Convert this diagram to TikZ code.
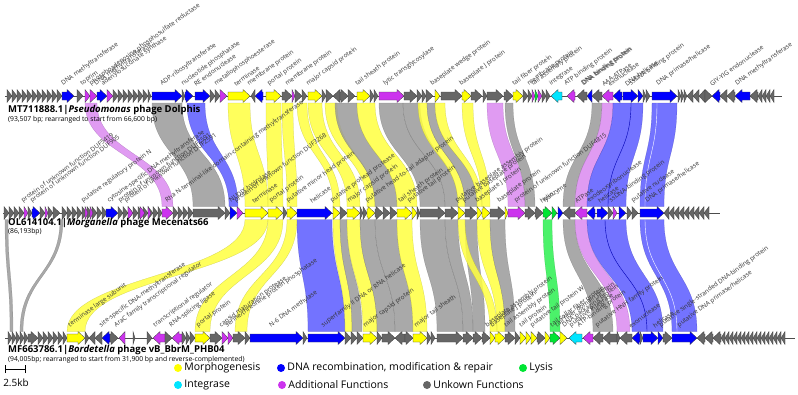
\documentclass[tikz,border=0pt]{standalone}
\usepackage{fontspec}
\setmainfont{Open Sans}
\usetikzlibrary{positioning}

\definecolor{morph}{HTML}{FFFF00}
\definecolor{dnarep}{HTML}{0000FF}
\definecolor{lysis}{HTML}{00E533}
\definecolor{integ}{HTML}{00E5FF}
\definecolor{addfun}{HTML}{CC33EE}
\definecolor{unkn}{HTML}{666666}
\definecolor{bmorph}{HTML}{FFFF40}
\definecolor{bdna}{HTML}{5A5AFF}
\definecolor{badd}{HTML}{DA8AF0}
\definecolor{bunk}{HTML}{9A9A9A}
\definecolor{blys}{HTML}{2CF050}

\tikzset{
  genebox/.style={draw=black!75, line width=0.3pt, line join=miter},
  bandfill/.style={fill=#1, fill opacity=0.85, draw=#1!70!black, draw opacity=0.6, line width=0.25pt},
  genelbl/.style={rotate=36, anchor=south west, inner sep=0pt,
    font=\fontsize{6.3}{7}\selectfont, text=black!80},
  tracktitle/.style={anchor=west, inner sep=0pt, font=\fontsize{9.5}{10}\selectfont\bfseries},
  tracknote/.style={anchor=west, inner sep=0pt, font=\fontsize{6.8}{7}\selectfont},
  backbone/.style={draw=black!70, line width=0.5pt},
  legdot/.style={circle, inner sep=0pt, minimum size=8pt},
  legtext/.style={anchor=west, inner sep=0pt, font=\fontsize{10.5}{11}\selectfont},
}

% one gene: start, end, track y, colour (points from start to end)
\newcommand{\genearrow}[4]{%
  \pgfmathsetmacro{\gl}{abs(#2-(#1))}%
  \pgfmathsetmacro{\gs}{(#2>#1)?1:-1}%
  \pgfmathsetmacro{\gh}{min(7,\gl)}%
  \pgfmathsetmacro{\gn}{#2-\gs*\gh}%
  \ifdim\gl pt<7.5pt
    \draw[genebox, fill=#4] (#1,#3-6.5) -- (#2,#3) -- (#1,#3+6.5) -- cycle;
  \else
    \draw[genebox, fill=#4] (#1,#3-4) -- (\gn,#3-4) -- (\gn,#3-6.5) -- (#2,#3)
      -- (\gn,#3+6.5) -- (\gn,#3+4) -- (#1,#3+4) -- cycle;
  \fi}

% homology ribbon: upper start/end, lower start/end, upper y, lower y, colour
\newcommand{\homband}[7]{%
  \pgfmathsetmacro{\bm}{(#5+#6)/2}%
  \draw[bandfill=#7] (#1,#5) .. controls (#1,\bm) and (#3,\bm) .. (#3,#6)
    -- (#4,#6) .. controls (#4,\bm) and (#2,\bm) .. (#2,#5) -- cycle;}

% thin seam inside a ribbon
\newcommand{\bandseam}[5]{%
  \pgfmathsetmacro{\bm}{(#3+#4)/2}%
  \draw[#5, line width=0.4pt] (#1,#3) .. controls (#1,\bm) and (#2,\bm) .. (#2,#4);}

\begin{document}
\begin{tikzpicture}[x=1pt, y=-1pt]
\useasboundingbox (0,0) rectangle (798,394);

% ribbons Dolphis -> Mecenats66
\foreach \a/\b/\c/\d/\k in {85/97/162/173/badd, 152/182/193/225/bunk, 187/205/229/238/bdna,
    228/250/245/268/bmorph, 266/281/268/283/bmorph, 282/293/287/297/bmorph,
    297/307/333/340/bmorph, 308/322/347/360/bmorph, 325/337/367/375/bmorph,
    335/357/375/397/bunk, 357/375/397/417/bmorph, 379/403/420/445/bunk,
    403/420/445/458/bunk, 418/427/458/465/bmorph, 427/435/465/477/bunk,
    435/445/477/482/bmorph, 462/473/482/490/bmorph, 487/503/508/525/badd,
    505/513/525/535/bunk, 592/602/563/575/bunk, 602/613/575/587/badd,
    613/643/587/626/bdna, 652/677/640/664/bdna}
  {\homband{\a}{\b}{\c}{\d}{103}{206.5}{\k}}
\bandseam{631}{608}{103}{206.5}{dnarep!70!black}
\bandseam{657}{645}{103}{206.5}{white}

% ribbons Mecenats66 -> PHB04
\foreach \a/\b/\c/\d/\k in {5/8/10/13/bunk, 60/63/20/23/bunk, 245/268/67/85/bmorph,
    268/283/195/210/bmorph, 287/297/235/247/bmorph, 297/332/308/345/bdna,
    333/340/345/352/bmorph, 340/347/352/362/bunk, 347/360/363/377/bmorph,
    360/375/377/395/bunk, 375/397/395/413/bunk, 397/412/413/427/bmorph,
    420/445/437/463/bunk, 445/458/463/473/bunk, 465/477/473/485/bunk,
    458/465/490/497/bmorph, 477/490/497/505/bmorph, 490/505/505/515/bunk,
    543/552/550/560/blys, 563/575/593/613/bunk, 575/587/617/630/badd,
    587/626/632/663/bdna, 640/664/672/697/bdna}
  {\homband{\a}{\b}{\c}{\d}{219.5}{331.5}{\k}}
\bandseam{605}{647}{219.5}{331.5}{dnarep!70!black}
\bandseam{645}{677}{219.5}{331.5}{white}

% backbones
\draw[backbone] (5,96) -- (782,96);
\draw[backbone] (3,213) -- (720,213);
\draw[backbone] (5,338) -- (795,338);

% genes: Dolphis
\foreach \x in {7,12,...,57} {\genearrow{\x}{\x+5}{96}{unkn}}
\foreach \x in {113,118,...,143} {\genearrow{\x}{\x+5}{96}{unkn}}
\foreach \a/\b/\k in {62/74/dnarep, 77/83/unkn, 85/90/addfun, 90/97/addfun, 97/107/dnarep,
    107/113/addfun, 148/151/unkn, 152/182/dnarep, 182/185/unkn, 185/193/dnarep,
    195/210/dnarep, 210/215/unkn, 215/220/unkn, 220/227/addfun, 228/250/morph,
    255/251/unkn, 263/255/dnarep, 266/281/morph, 282/292/unkn, 292/295/addfun,
    295/302/unkn, 302/307/unkn, 308/322/morph, 322/326/unkn, 326/333/unkn,
    340/333/unkn, 340/348/unkn, 348/355/unkn, 357/370/morph, 370/374/unkn,
    374/378/unkn, 379/404/addfun, 404/417/unkn, 417/422/unkn, 422/426/unkn,
    426/433/unkn, 435/440/morph, 441/462/unkn, 462/471/morph, 471/482/unkn,
    483/487/unkn, 487/503/unkn, 504/513/unkn, 513/523/morph, 523/528/unkn,
    528/532/unkn, 532/535/addfun, 535/538/lysis, 538/542/addfun, 542/546/unkn,
    546/550/unkn, 562/551/integ, 575/567/addfun, 587/577/unkn, 592/587/dnarep,
    602/592/unkn, 613/602/addfun, 622/613/dnarep, 623/638/dnarep, 638/643/dnarep,
    643/646/unkn, 646/650/unkn, 652/677/dnarep, 678/681/unkn, 681/684/unkn,
    684/687/unkn, 693/687/unkn, 699/693/unkn, 705/699/unkn, 705/712/unkn,
    720/712/dnarep, 727/720/unkn, 735/727/unkn, 750/735/dnarep, 758/750/unkn,
    762/758/unkn, 766/762/unkn, 770/766/unkn, 774/770/unkn}
  {\genearrow{\a}{\b}{96}{\k}}

% genes: Mecenats66
\foreach \x in {4,9,14,19,62,67,...,102,118,123,...,153} {\genearrow{\x}{\x+5}{213}{unkn}}
\foreach \x in {664,669,...,704} {\genearrow{\x+5}{\x}{213}{unkn}}
\foreach \a/\b/\k in {24/28/addfun, 28/32/unkn, 32/40/dnarep, 40/45/unkn, 45/48/addfun,
    48/53/unkn, 53/60/unkn, 85/88/addfun, 90/93/addfun, 106/118/dnarep,
    128/133/addfun, 140/145/addfun, 148/151/addfun, 158/162/unkn, 162/173/addfun,
    173/178/unkn, 178/183/unkn, 183/188/unkn, 188/193/unkn, 193/225/unkn,
    225/230/unkn, 230/237/dnarep, 237/243/addfun, 245/268/morph, 268/283/morph,
    283/287/unkn, 287/297/morph, 297/332/dnarep, 333/340/morph, 340/347/unkn,
    347/360/morph, 360/363/unkn, 363/367/unkn, 367/375/morph, 375/383/unkn,
    383/390/unkn, 390/397/unkn, 397/412/morph, 412/417/morph, 417/420/unkn,
    420/445/unkn, 445/458/unkn, 458/465/morph, 465/477/unkn, 477/482/morph,
    482/490/morph, 490/505/unkn, 505/508/morph, 508/525/addfun, 525/535/unkn,
    535/543/unkn, 543/552/lysis, 552/557/lysis, 558/563/dnarep, 575/563/unkn,
    587/575/addfun, 595/587/dnarep, 597/608/dnarep, 608/613/unkn, 613/617/addfun,
    619/626/dnarep, 627/632/unkn, 632/638/unkn, 640/664/dnarep}
  {\genearrow{\a}{\b}{213}{\k}}

% genes: PHB04
\foreach \x in {8,12,...,24} {\genearrow{\x}{\x+4}{338}{unkn}}
\foreach \x in {38,43,...,58} {\genearrow{\x}{\x+5}{338}{unkn}}
\foreach \x in {721,725,...,781} {\genearrow{\x+4}{\x}{338}{unkn}}
\foreach \a/\b/\k in {28/38/unkn, 63/67/unkn, 67/85/morph, 85/89/unkn, 95/89/unkn,
    102/95/unkn, 110/102/dnarep, 110/118/unkn, 125/119/addfun, 133/135/unkn,
    147/152/unkn, 165/153/addfun, 165/172/unkn, 182/172/addfun, 182/186/unkn,
    186/190/unkn, 190/195/unkn, 195/210/morph, 210/222/unkn, 222/228/addfun,
    228/233/addfun, 233/245/unkn, 245/250/unkn, 250/303/dnarep, 303/307/unkn,
    308/345/dnarep, 345/351/unkn, 351/357/unkn, 357/363/unkn, 363/377/morph,
    377/382/unkn, 382/395/unkn, 405/395/unkn, 405/413/unkn, 413/427/morph,
    427/431/unkn, 431/435/unkn, 437/463/unkn, 463/473/unkn, 473/482/unkn,
    482/490/unkn, 490/495/morph, 495/505/morph, 505/515/unkn, 515/520/unkn,
    520/526/morph, 526/531/morph, 531/537/morph, 537/545/unkn, 545/550/morph,
    550/560/lysis, 560/567/morph, 582/569/integ, 593/583/addfun, 603/593/unkn,
    617/603/unkn, 617/620/unkn, 632/620/unkn, 640/632/dnarep, 640/643/unkn,
    643/658/dnarep, 658/663/dnarep, 663/672/unkn, 672/697/dnarep, 705/697/unkn,
    713/705/unkn, 721/713/unkn}
  {\genearrow{\a}{\b}{338}{\k}}

% gene names: Dolphis
\foreach \x/\t [count=\i] in {64/DNA methyltransferase, 83/toprim,
    92/phosphoadenosine phosphosulfate reductase, 97/DNA methyltransferase,
    104/adenylosuccinate synthase, 163/ADP-ribosyltransferase,
    184/nucleotide phosphatase, 196/RE endonuclease, 217/metallophosphoesterase,
    236/terminase, 250/membrane protein, 270/portal protein, 288/membrane protein,
    309/major capsid protein, 358/tail sheath protein, 386/lytic transglycosylase,
    433/baseplate wedge protein, 462/baseplate J protein, 515/tail fiber protein,
    530/membrane protein, 534/tail assembly protein, 552/integrase,
    567/ATP binding protein, 584/DNA binding protein, 585/DNA binding protein,
    604/AAA-ATPase, 610/exonuclease, 627/DNA helicase, 632/ssDNA binding protein,
    659/{DNA primase/helicase}, 712/GIY-YIG endonuclease, 738/DNA methyltransferase}
  {\node[genelbl] (gd\i) at (\x,87) {\t};}

% gene names: Mecenats66
\foreach \x/\t [count=\i] in {24/protein of unknown function DUF5419,
    33/protein of unknown function DUF905, 84/putative regulatory protein N,
    110/cytosine-specific DNA methyltransferase, 121/protein of unknown function DUF2591,
    127/protein of unknown function DUF2591,
    168/Rha N-terminal-like domain-containing methyltransferase,
    232/NUDIX hydrolase, 237/protein of unknown function DUF3268, 254/terminase,
    272/portal protein, 289/putative minor head protein, 312/helicase,
    333/putative prohead protease, 350/major capsid protein,
    368/putative head-to-tail adaptor protein, 401/tail sheath protein,
    410/putative tail protein, 458/putative baseplate assembly protein,
    465/putative baseplate protein, 478/baseplate J protein, 500/baseplate protein,
    517/protein of unknown function DUF4815, 542/holin, 546/lysozyme,
    577/ATPase, 590/exodeoxyribonuclease, 600/helicase, 612/ssDNA-binding protein,
    634/putative nuclease, 648/{DNA primase/helicase}}
  {\node[genelbl] (gm\i) at (\x,204) {\t};}

% gene names: PHB04
\foreach \x/\t [count=\i] in {71/terminase large subunit,
    102/site-specific DNA-methyltransferase, 117/AraC family transcriptional regulator,
    156/transcriptional regulator, 172/RNA-splicing ligase, 199/portal protein,
    222/capsid maturation protease, 228/{serine/threonine protein phosphatase},
    272/N-6 DNA methylase, 324/superfamily II DNA or RNA helicase,
    366/major capsid protein, 417/major tail sheath, 488/baseplate assembly protein,
    493/baseplate J protein, 507/tail assembly protein, 522/tail protein,
    533/putative tail protein W, 553/tail collar fiber protein,
    558/tail fiber domain protein, 565/DNA packaging protein, 572/putative integrase,
    580/ATP-binding protein, 598/putative HNH family protein, 631/exonuclease,
    655/helicase, 662/putative single-stranded DNA-binding protein,
    680/{putative DNA primase/helicase}}
  {\node[genelbl] (gb\i) at (\x,328.5) {\t};}

% genome titles
\node[tracktitle] (tdol) at (8,110) {MT711888.1|\textit{Pseudomonas} phage Dolphis};
\node[tracknote] (ndol) at (8,119.5) {(93,507 bp; rearranged to start from 66,600 bp)};
\node[tracktitle] (tmec) at (8,223) {OL614104.1|\textit{Morganella} phage Mecenats66};
\node[tracknote] (nmec) at (8,231.5) {(86,193bp)};
\node[tracktitle] (tphb) at (8,350) {MF663786.1|\textit{Bordetella} phage vB\_BbrM\_PHB04};
\node[tracknote] (nphb) at (8,360) {(94,005bp; rearranged to start from 31,900 bp and reverse-complemented)};

% scale bar
\coordinate (sbl) at (5,369);
\coordinate (sbr) at (25,369);
\draw[line width=0.6pt] (sbl) -- (sbr);
\draw[line width=0.6pt] ([yshift=-4pt]sbl) -- ([yshift=4pt]sbl);
\draw[line width=0.6pt] ([yshift=-4pt]sbr) -- ([yshift=4pt]sbr);
\node[font=\fontsize{10}{11}\selectfont, inner sep=0pt] (sbt) at (16,383) {2.5kb};

% legend
\node[legdot, fill=morph] (dmor) at (178,368) {};
\node[legtext, right=2pt of dmor] (lmor) {Morphogenesis};
\node[legdot, fill=dnarep] (ddna) at (281,368) {};
\node[legtext, right=2pt of ddna] (ldna) {DNA recombination, modification \& repair};
\node[legdot, fill=lysis] (dlys) at (523,368) {};
\node[legtext, right=2pt of dlys] (llys) {Lysis};
\node[legdot, fill=integ] (dint) at (178,385) {};
\node[legtext, right=2pt of dint] (lint) {Integrase};
\node[legdot, fill=addfun] (dadd) at (282,385) {};
\node[legtext, right=2pt of dadd] (ladd) {Additional Functions};
\node[legdot, fill=unkn] (dunk) at (427,385) {};
\node[legtext, right=2pt of dunk] (lunk) {Unkown Functions};
\end{tikzpicture}
\end{document}
